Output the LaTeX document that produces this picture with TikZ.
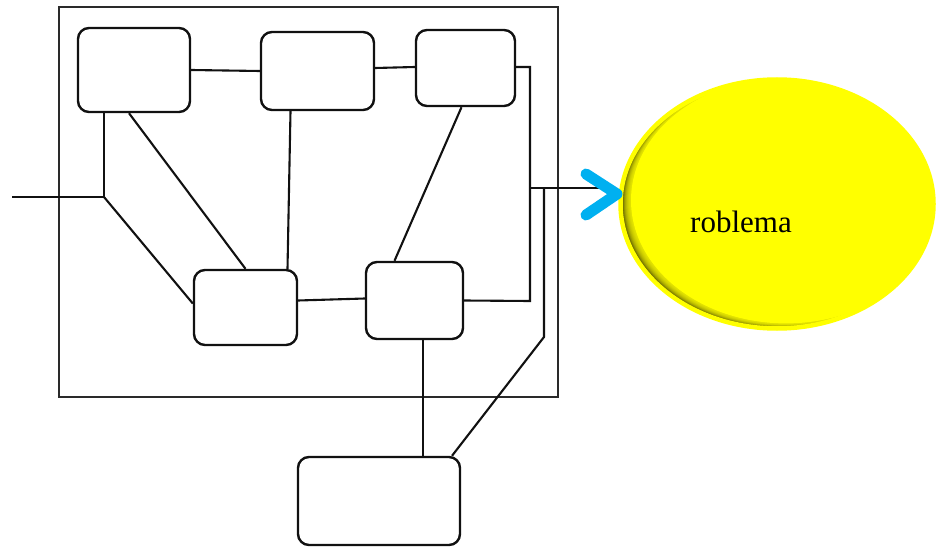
\documentclass[tikz,border=0pt]{standalone}
\usepackage{fontspec}
\setmainfont{Liberation Serif}
\usetikzlibrary{shapes.geometric,calc}
\definecolor{lineink}{HTML}{111111}
\definecolor{frameink}{HTML}{2A2A2A}
\definecolor{chevblue}{HTML}{00B0F0}
\definecolor{probyellow}{HTML}{FFFF00}
\tikzset{
  rbox/.style={draw=lineink, line width=2.4pt, rounded corners=11pt, fill=white, inner sep=0pt},
  frame/.style={draw=frameink, line width=2.2pt, inner sep=0pt},
  wire/.style={draw=lineink, line width=2.1pt},
  chev/.style={draw=chevblue, line width=11pt, line cap=round, line join=round},
  probshape/.style={ellipse, draw=probyellow, line width=4.5pt, fill=probyellow, inner sep=0pt,
    path picture={
      \fill[black!85!probyellow] (path picture bounding box.south west) rectangle (path picture bounding box.north east);
      \foreach \k in {1,...,18}{
        \fill[probyellow, opacity=0.11] ([shift={(\k*0.5pt,\k*0.2pt)}]path picture bounding box.center) ellipse (156pt and 124pt);
      }
      \fill[probyellow] ([shift={(9pt,3.6pt)}]path picture bounding box.center) ellipse (155pt and 123pt);
    }}
}
\begin{document}
\begin{tikzpicture}[x=1pt,y=-1pt]
\useasboundingbox (0,0) rectangle (937,548);
% frame
\node[frame, minimum width=499pt, minimum height=390pt] (outer) at (308.5,202) {};
% boxes
\node[rbox, minimum width=112pt, minimum height=84pt] (A) at (134,70) {};
\node[rbox, minimum width=113pt, minimum height=78pt] (B) at (317.5,71) {};
\node[rbox, minimum width=99pt, minimum height=76pt] (C) at (465.5,68) {};
\node[rbox, minimum width=103pt, minimum height=75pt] (D) at (245.5,307.5) {};
\node[rbox, minimum width=97pt, minimum height=77pt] (E) at (414.5,300.5) {};
\node[rbox, minimum width=162pt, minimum height=88pt] (F) at (379,501) {};
% ellipse
\node[probshape, minimum width=313pt, minimum height=249pt] (prob) at (777,204) {};
\node[anchor=base, font=\fontsize{31pt}{34pt}\selectfont, inner sep=0pt] (problabel) at (741,233) {roblema};
% coordinates
\coordinate (inL) at (12,197);
\coordinate (j1) at (104,197);
\coordinate (c1) at (530,67);
\coordinate (c2) at (530,301);
\coordinate (j2) at (530,188);
\coordinate (arrEnd) at (608,188);
\coordinate (j3) at (544,188);
\coordinate (k1) at (544,337);
\coordinate (e1) at ([xshift=8.5pt]E.south);
\coordinate (tip) at (617,194);
\coordinate (armT) at (586,174);
\coordinate (armB) at (586,215);
% connectors
\draw[wire] (A.east) -- (B.west);
\draw[wire] ([yshift=3pt]B.east) -- ([yshift=1pt]C.west);
\draw[wire] (A.south -| j1) -- (j1);
\draw[wire] (inL) -- (j1);
\draw[wire] (j1) -- ([yshift=4pt]D.west);
\draw[wire] ([xshift=-5pt]A.south) -- (D.north);
\draw[wire] ([xshift=-27pt]B.south) -- ([xshift=42pt]D.north);
\draw[wire] ([xshift=-4pt]C.south) -- ([xshift=-20pt]E.north);
\draw[wire] ([yshift=7pt]D.east) -- ([yshift=2pt]E.west);
\draw[wire] ([yshift=1pt]C.east) -- (c1) -- (c2) -- (E.east);
\draw[wire] (j2) -- (arrEnd);
\draw[wire] (j3) -- (k1) -- ([xshift=73pt]F.north);
\draw[wire] (e1) -- (e1 |- F.north);
\draw[chev] (armT) -- (tip) -- (armB);
\end{tikzpicture}
\end{document}
